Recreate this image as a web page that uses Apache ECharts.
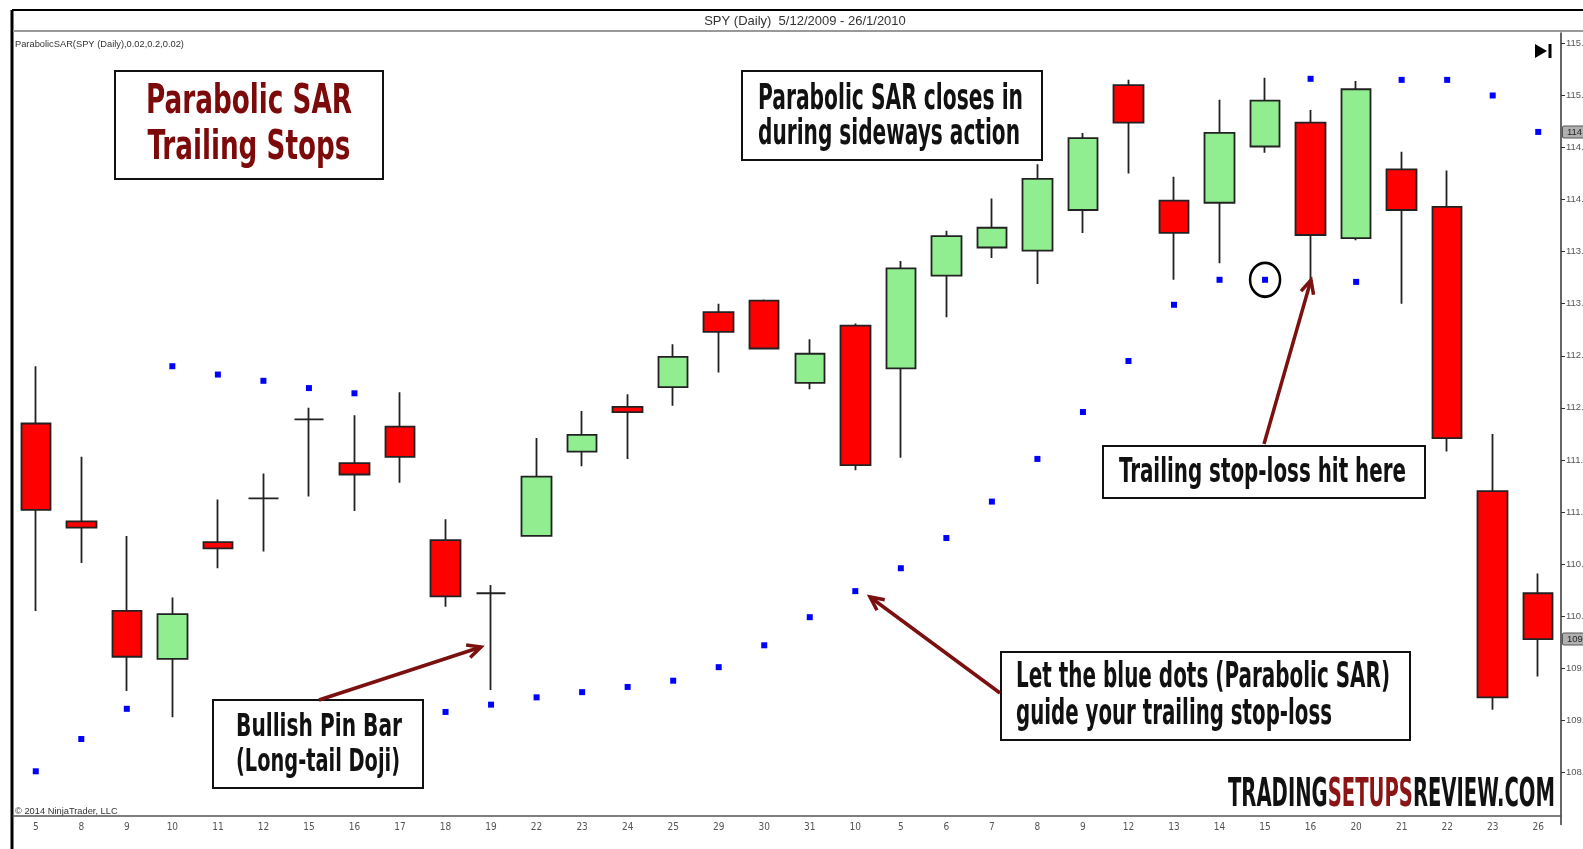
<!DOCTYPE html>
<html>
<head>
<meta charset="utf-8">
<title>SPY Parabolic SAR</title>
<script src="https://cdn.jsdelivr.net/npm/echarts@6/dist/echarts.min.js"></script>
<style>
html, body { margin: 0; padding: 0; background: #fff; }
#Chart { width: 1583px; height: 849px; }
</style>
</head>
<body>
<div id="Chart"></div>
<script>
// x轴日期 (Dec 2009 - Jan 2010)
const days = ['5', '8', '9', '10', '11', '12', '15', '16', '17', '18', '19', '22', '23', '24', '25', '29', '30', '31',
  '10', '5', '6', '7', '8', '9', '12', '13', '14', '15', '16', '20', '21', '22', '23', '26']
// K线数据
const opens = [111.85, 110.91, 110.05, 109.59, 110.71, 111.13, 111.89, 111.47, 111.82, 110.73, 110.22, 110.77, 111.58, 112.01, 112.20, 112.92, 113.03, 112.24,
  112.79, 112.38, 113.27, 113.54, 113.51, 113.90, 115.10, 113.99, 113.97, 114.51, 114.74, 113.63, 114.29, 113.93, 111.20, 110.22]
const closes = [111.02, 110.85, 109.61, 110.02, 110.65, 111.13, 111.89, 111.36, 111.53, 110.19, 110.22, 111.34, 111.74, 111.96, 112.49, 112.73, 112.57, 112.52,
  111.45, 113.34, 113.65, 113.73, 114.20, 114.59, 114.74, 113.68, 114.64, 114.95, 113.66, 115.06, 113.90, 111.71, 109.22, 109.78]
const lows = [110.05, 110.51, 109.28, 109.03, 110.46, 110.62, 111.15, 111.01, 111.28, 110.09, 109.29, 110.77, 111.44, 111.51, 112.02, 112.34, 112.56, 112.18,
  111.40, 111.52, 112.87, 113.44, 113.19, 113.68, 114.25, 113.23, 113.39, 114.45, 113.22, 113.61, 113.00, 111.58, 109.10, 109.42]
const highs = [112.40, 111.53, 110.77, 110.18, 111.12, 111.37, 112.00, 111.93, 112.15, 110.93, 110.30, 111.71, 111.97, 112.13, 112.61, 113.00, 113.04, 112.66,
  112.81, 113.41, 113.70, 114.01, 114.34, 114.64, 115.15, 114.22, 114.96, 115.17, 114.86, 115.14, 114.46, 114.28, 111.75, 110.41]
// 抛物线SAR点
const sar = [108.51, 108.82, 109.11, 112.40, 112.32, 112.26, 112.19, 112.14, null, 109.08, 109.15, 109.22, 109.27, 109.32, 109.38, 109.51, 109.72, 109.99,
  110.24, 110.46, 110.75, 111.10, 111.51, 111.96, 112.45, 112.99, 113.23, 113.23, 115.16, 113.21, 115.15, 115.15, 115.00, 114.65]
// y轴刻度
const yMin = 108
const yMax = 115.6
const yStep = 0.5
const stopHitIndex = 27

const narrow = '"Liberation Sans Narrow", "DejaVu Sans Condensed", Roboto, sans-serif'
const maroon = '#7d0a0a'
const arrowColor = '#7a1010'

const myChart = echarts.init(document.getElementById('Chart'))

const ohlc = opens.map((o, i) => [o, closes[i], lows[i], highs[i]])

// 轴上的价格标签 (线本身透明)
const tag = (value) => ({
  silent: true,
  symbol: 'none',
  animation: false,
  lineStyle: { color: 'rgba(0,0,0,0)', width: 1, type: 'solid' },
  label: {
    show: true,
    position: 'end',
    distance: 2,
    formatter: (p) => p.value.toFixed(2),
    backgroundColor: '#b0b0b0',
    borderColor: '#555',
    borderWidth: 1,
    borderRadius: 1,
    padding: [1, 3, 0, 4],
    fontSize: 9.5,
    color: '#222',
    fontFamily: 'Liberation Sans'
  },
  data: [{ yAxis: value }]
})

const option = {
  animation: false,
  backgroundColor: '#fff',
  grid: { left: 13, right: 22, top: 33, bottom: 24.6, outerBoundsMode: 'none', containLabel: false },
  xAxis: {
    type: 'category',
    data: days,
    boundaryGap: true,
    offset: -8.4,
    axisLine: { lineStyle: { color: '#555', width: 1.5 } },
    axisTick: { alignWithLabel: true, length: 5, lineStyle: { color: '#555' } },
    axisLabel: { interval: 0, fontSize: 10, color: '#555', margin: 6, fontFamily: narrow },
    splitLine: { show: false }
  },
  yAxis: {
    type: 'value',
    position: 'right',
    min: yMin,
    max: yMax,
    interval: yStep,
    axisLine: { show: true, lineStyle: { color: '#333', width: 1.5 } },
    axisTick: { show: true, length: 4, lineStyle: { color: '#333' } },
    axisLabel: {
      fontSize: 9.5,
      color: '#555',
      margin: 5,
      fontFamily: 'Liberation Sans',
      showMinLabel: false,
      showMaxLabel: false,
      formatter: (v) => v.toFixed(2)
    },
    splitLine: { show: false }
  },
  series: [
    {
      type: 'candlestick',
      data: ohlc,
      barWidth: 30,
      itemStyle: {
        color: '#90ee90',
        color0: '#ff0000',
        borderColor: '#222',
        borderColor0: '#222',
        borderWidth: 1.8
      },
      markLine: tag(closes[closes.length - 1])
    },
    {
      type: 'scatter',
      data: sar,
      symbol: 'rect',
      symbolSize: 6,
      itemStyle: { color: '#0000ff', opacity: 1 },
      z: 3,
      markLine: tag(sar[sar.length - 1])
    }
  ]
}
myChart.setOption(option)

// 文字宽度测量, 用 scaleX 压缩成窄体
const ctx = document.createElement('canvas').getContext('2d')
const fitText = (str, x, y, width, size, color, align) => {
  const font = `bold ${size}px ${narrow}`
  ctx.font = font
  const s = width / ctx.measureText(str).width
  return {
    type: 'text', x, y, scaleX: s, z: 101, silent: true,
    style: { text: str, font, fill: color, align, textAlign: align, verticalAlign: 'middle', textVerticalAlign: 'middle' }
  }
}
const plainText = (str, x, y, size, color, align) => ({
  type: 'text', x, y, silent: true,
  style: { text: str, font: `${size}px "Liberation Sans", Arial, sans-serif`, fill: color, align, textAlign: align, verticalAlign: 'middle', textVerticalAlign: 'middle' }
})
const box = (x, y, w, h) => ({
  type: 'rect', z: 100, silent: true,
  shape: { x, y, width: w, height: h },
  style: { fill: '#fff', stroke: '#111', lineWidth: 2 }
})
const arrow = (x1, y1, x2, y2) => {
  const a = Math.atan2(y2 - y1, x2 - x1)
  const len = 15
  const w = 0.45
  const p1 = [x2 - len * Math.cos(a - w), y2 - len * Math.sin(a - w)]
  const p2 = [x2 - len * Math.cos(a + w), y2 - len * Math.sin(a + w)]
  return [
    { type: 'line', z: 102, silent: true, shape: { x1, y1, x2, y2 }, style: { stroke: arrowColor, lineWidth: 3.5 } },
    { type: 'polyline', z: 102, silent: true, shape: { points: [p1, [x2, y2], p2] }, style: { stroke: arrowColor, lineWidth: 3.5, fill: null } }
  ]
}

const hit = myChart.convertToPixel({ seriesIndex: 1 }, [stopHitIndex, sar[stopHitIndex]])

const graphics = [
  // 外框
  { type: 'line', silent: true, shape: { x1: 12, y1: 10, x2: 1583, y2: 10 }, style: { stroke: '#000', lineWidth: 2 } },
  { type: 'line', silent: true, shape: { x1: 12, y1: 10, x2: 12, y2: 849 }, style: { stroke: '#000', lineWidth: 3 } },
  { type: 'line', silent: true, shape: { x1: 13, y1: 31, x2: 1583, y2: 31 }, style: { stroke: '#999', lineWidth: 2 } },
  plainText('SPY (Daily)  5/12/2009 - 26/1/2010', 805, 21, 13, '#333', 'center'),
  plainText('ParabolicSAR(SPY (Daily),0.02,0.2,0.02)', 15, 44, 9.3, '#333', 'left'),
  plainText('\u00a9 2014 NinjaTrader, LLC', 15, 811, 9.3, '#333', 'left'),
  { type: 'polygon', silent: true, shape: { points: [[1535, 44], [1535, 58], [1547, 51]] }, style: { fill: '#000' } },
  { type: 'rect', silent: true, shape: { x: 1548.5, y: 44, width: 3, height: 14 }, style: { fill: '#000' } },
  // 标题框
  box(115, 71, 268, 108),
  fitText('Parabolic SAR', 249, 102.5, 206, 41, maroon, 'center'),
  fitText('Trailing Stops', 249, 148, 203, 41, maroon, 'center'),
  // 注释框
  box(742, 71, 300, 89),
  fitText('Parabolic SAR closes in', 758, 99.5, 265, 35, '#111', 'left'),
  fitText('during sideways action', 758, 134.5, 262, 35, '#111', 'left'),
  box(1103, 446, 322, 52),
  fitText('Trailing stop-loss hit here', 1119, 473.5, 287, 34, '#111', 'left'),
  box(213, 700, 210, 88),
  fitText('Bullish Pin Bar', 236, 727.5, 166, 32, '#111', 'left'),
  fitText('(Long-tail Doji)', 236, 763, 164, 32, '#111', 'left'),
  box(1001, 652, 409, 88),
  fitText('Let the blue dots (Parabolic SAR)', 1016, 678, 374, 36, '#111', 'left'),
  fitText('guide your trailing stop-loss', 1016, 715, 316, 36, '#111', 'left'),
  ...arrow(319, 700, 481, 647),
  ...arrow(1000, 693, 870, 597),
  ...arrow(1264, 444, 1311, 280),
  // 止损点圈出
  {
    type: 'circle', z: 103, silent: true, x: hit[0], y: hit[1], scaleY: 1.13,
    shape: { cx: 0, cy: 0, r: 15 },
    style: { stroke: '#000', lineWidth: 2.5, fill: null, strokeNoScale: true }
  }
]

// 水印
ctx.font = `bold 39px ${narrow}`
const wmScale = 327 / ctx.measureText('TRADINGSETUPSREVIEW.COM').width
graphics.push({
  type: 'text', x: 1228, y: 795.5, scaleX: wmScale, z: 101, silent: true,
  style: {
    text: '{a|TRADING}{b|SETUPS}{a|REVIEW.COM}',
    align: 'left', textAlign: 'left', verticalAlign: 'middle', textVerticalAlign: 'middle',
    rich: {
      a: { fontSize: 39, fontWeight: 'bold', fontFamily: narrow, fill: '#111', color: '#111' },
      b: { fontSize: 39, fontWeight: 'bold', fontFamily: narrow, fill: '#8b1414', color: '#8b1414' }
    }
  }
})

myChart.setOption({ graphic: graphics })
</script>
</body>
</html>
